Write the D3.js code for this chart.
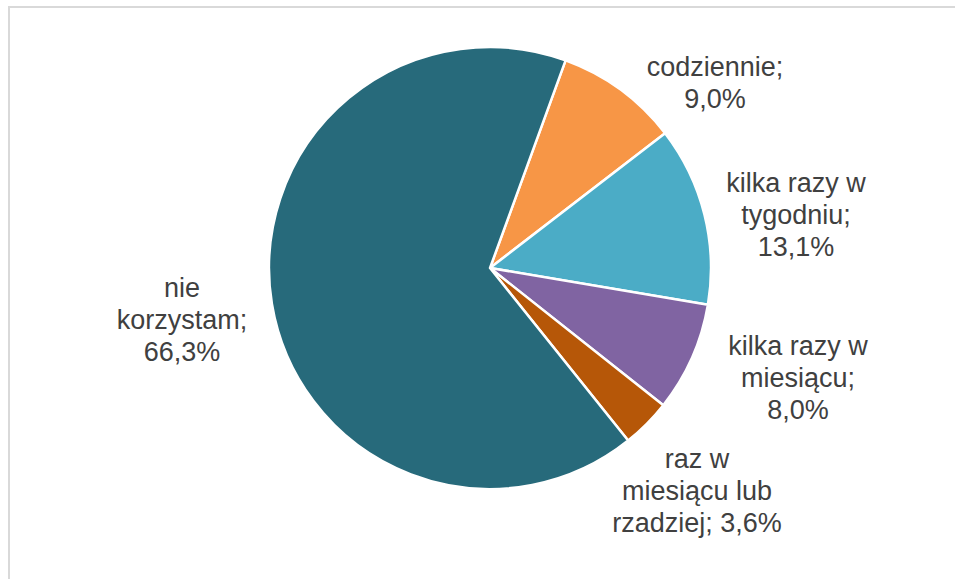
<!DOCTYPE html>
<html>
<head>
<meta charset="utf-8">
<script src="https://cdn.jsdelivr.net/npm/d3@7"></script>
<style>
  html, body { margin: 0; padding: 0; background: #fff; overflow: hidden; }
  svg { display: block; }
</style>
</head>
<body>
<div id="chart"></div>
<script>
// Data
const categories = ["codziennie", "kilka razy w tygodniu", "kilka razy w miesiącu", "raz w miesiącu lub rzadziej", "nie korzystam"];
const values = [9.0, 13.1, 8.0, 3.6, 66.3];
const colors = ["#F79646", "#4BACC6", "#8064A2", "#B65708", "#276A7B"];

// How Excel broke the label lines
const categoryLines = [["codziennie;"], ["kilka razy w", "tygodniu;"], ["kilka razy w", "miesiącu;"], ["raz w", "miesiącu lub", "rzadziej;"], ["nie", "korzystam;"]];
const valueOnLastLine = [false, false, false, true, false];

// Label placement relative to the pie centre: [dx of text centre, dy of first baseline]
const labelOffsets = [[225, -192], [306, -76], [308, 87], [207, 200], [-308, 29]];

const width = 955, height = 579;
const cx = 490, cy = 268, radius = 221;
const startDeg = 20;
const lineHeight = 32;

const svg = d3.select('#chart')
    .append('svg')
    .attr('width', width)
    .attr('height', height);

// chart frame (only top and left edges are visible)
svg.append('rect')
    .attr('x', 9)
    .attr('y', 7)
    .attr('width', width + 20)
    .attr('height', height + 20)
    .attr('fill', 'none')
    .attr('stroke', '#d9d9d9')
    .attr('stroke-width', 2);

const data = categories.map((c, i) => ({ name: c, value: values[i], i }));

const pie = d3.pie()
    .sort(null)
    .value(d => d.value)
    .startAngle(startDeg * Math.PI / 180)
    .endAngle(startDeg * Math.PI / 180 + 2 * Math.PI);

const arc = d3.arc().innerRadius(0).outerRadius(radius);

const g = svg.append('g').attr('transform', `translate(${cx},${cy})`);

g.selectAll('path.slice')
    .data(pie(data))
    .enter()
    .append('path')
    .attr('class', 'slice')
    .attr('d', arc)
    .attr('fill', d => colors[d.data.i])
    .attr('stroke', '#fff')
    .attr('stroke-width', 2.5)
    .attr('stroke-linejoin', 'round');

const fmt = v => d3.format('.1f')(v).replace('.', ',') + '%';

const labels = g.selectAll('text.label')
    .data(data)
    .enter()
    .append('text')
    .attr('class', 'label')
    .attr('text-anchor', 'middle')
    .style('font-family', '"Liberation Sans", Arial, sans-serif')
    .style('font-size', '27px')
    .style('fill', '#404040');

labels.each(function(d) {
    const lines = categoryLines[d.i].slice();
    if (valueOnLastLine[d.i]) {
        lines[lines.length - 1] += ' ' + fmt(d.value);
    } else {
        lines.push(fmt(d.value));
    }
    const [dx, dy] = labelOffsets[d.i];
    d3.select(this).selectAll('tspan')
        .data(lines)
        .enter()
        .append('tspan')
        .attr('x', dx)
        .attr('y', (t, k) => dy + k * lineHeight)
        .text(t => t);
});
</script>
</body>
</html>
